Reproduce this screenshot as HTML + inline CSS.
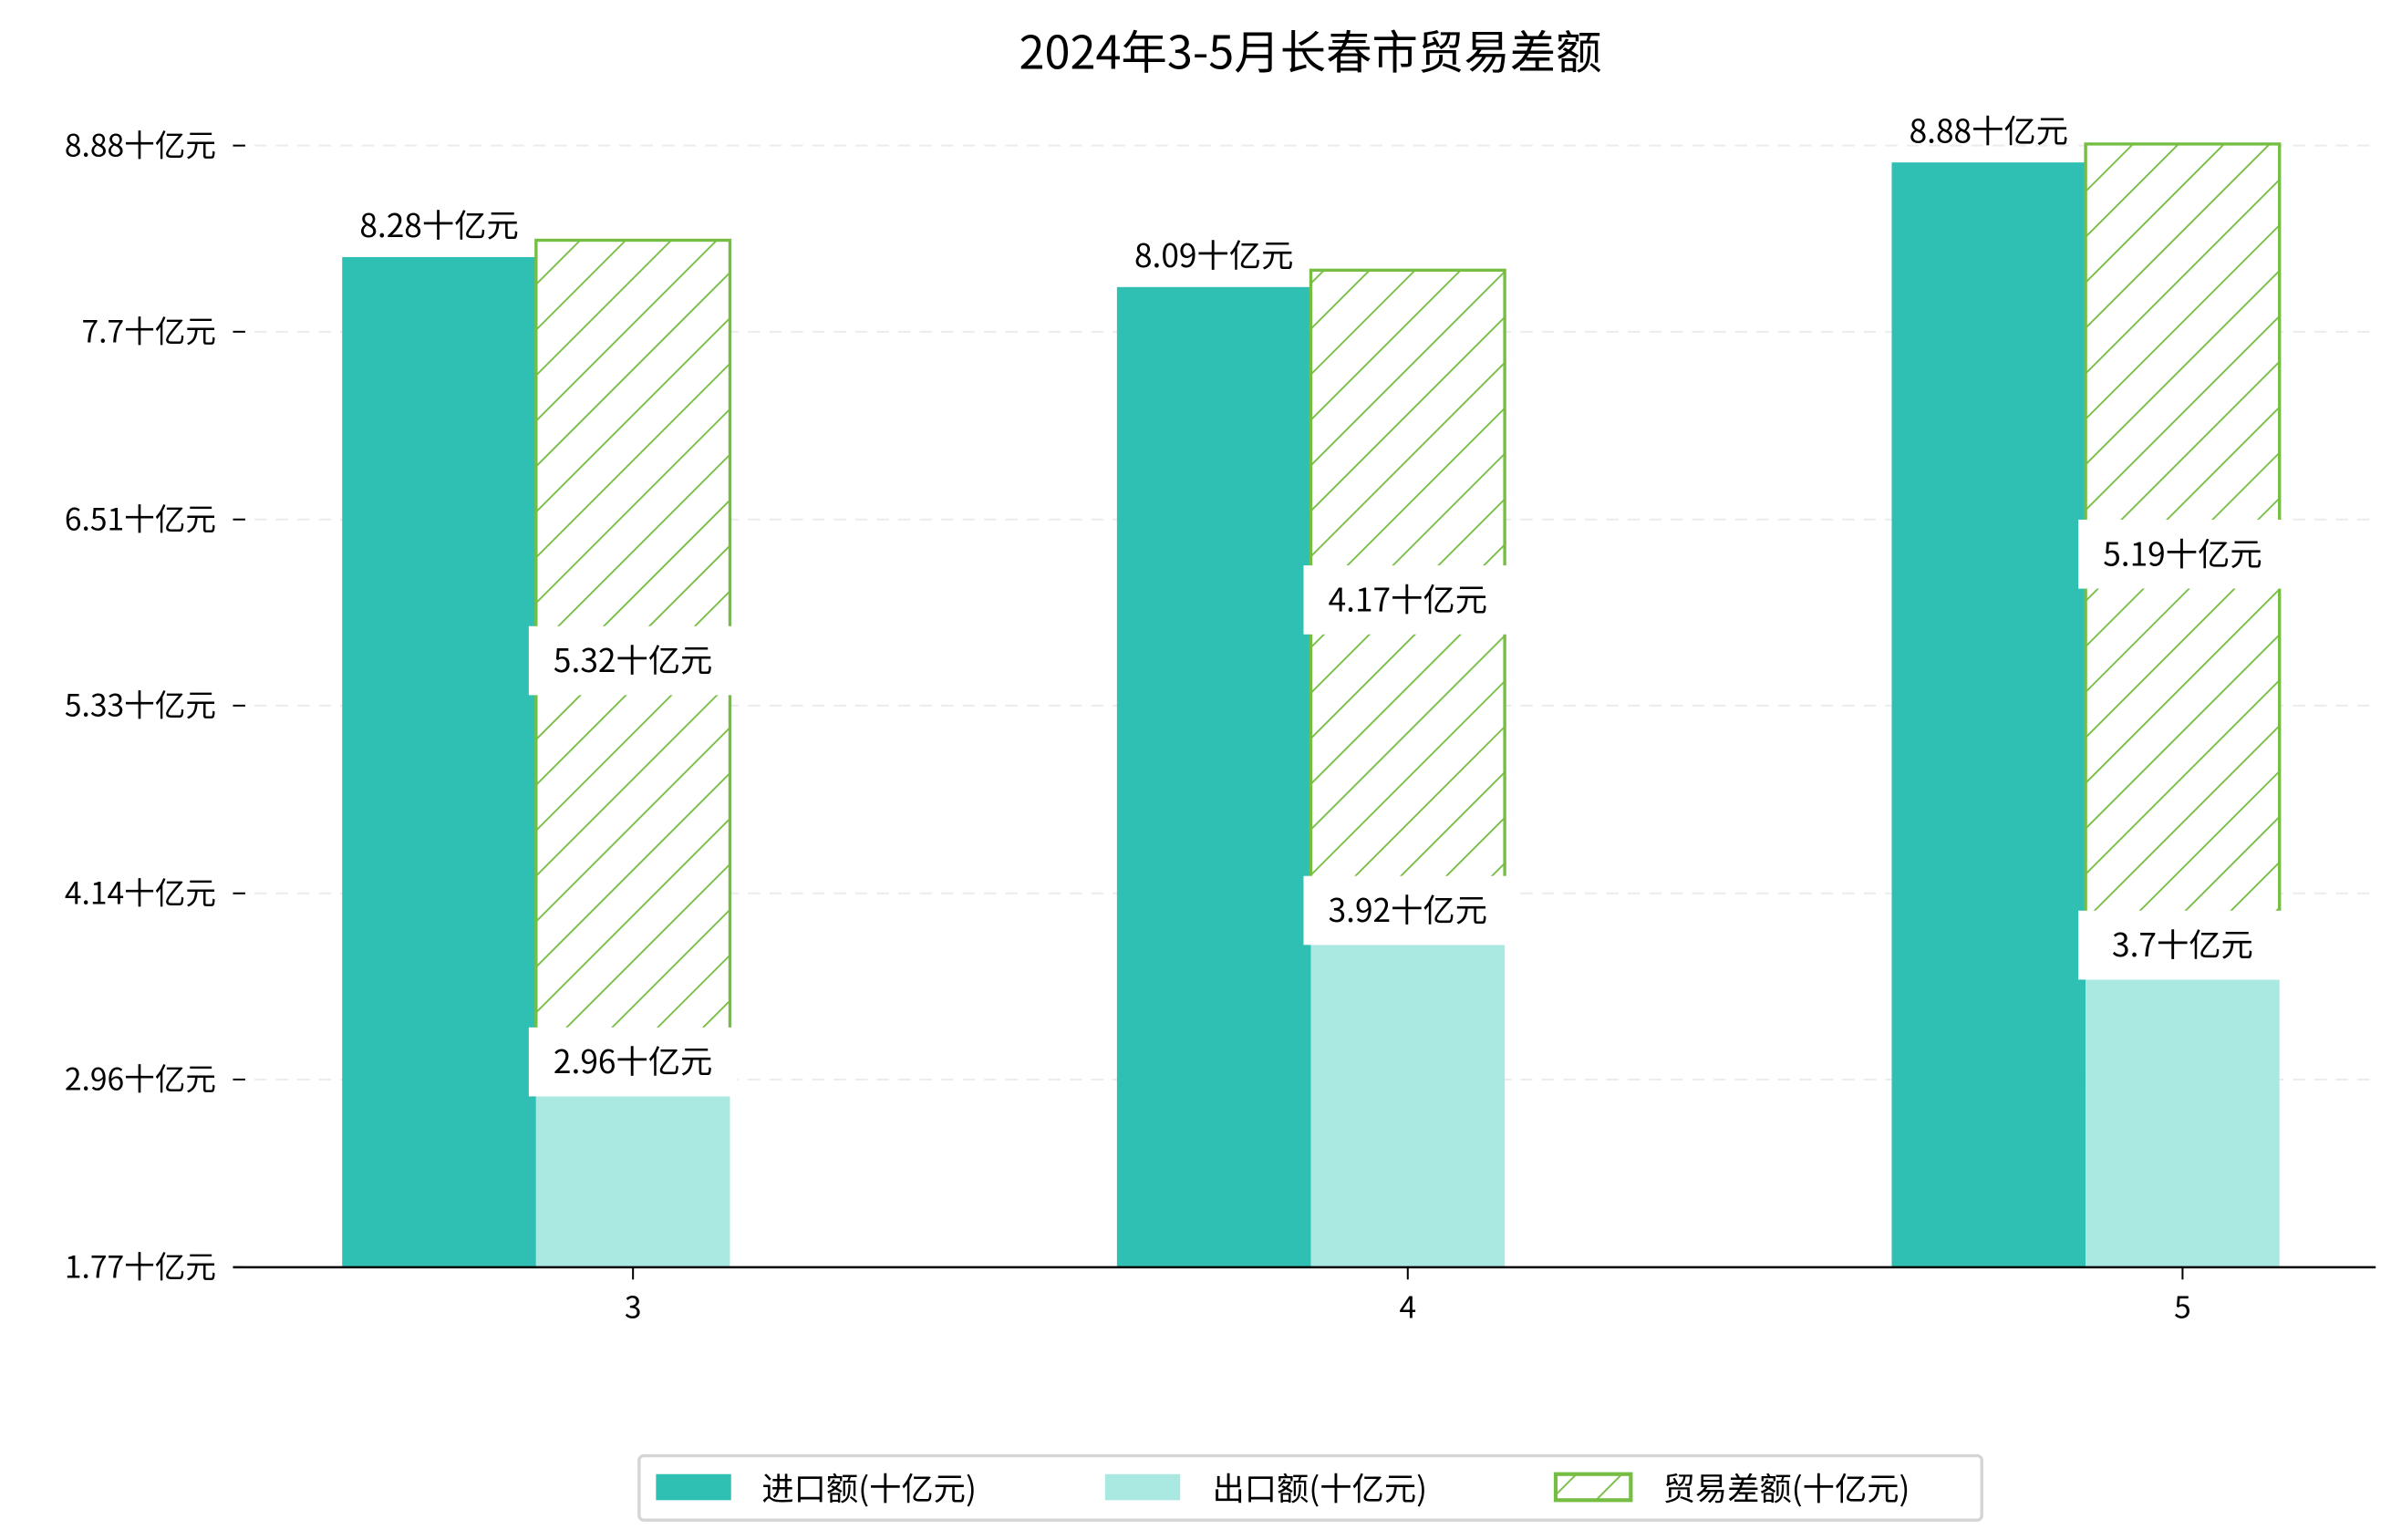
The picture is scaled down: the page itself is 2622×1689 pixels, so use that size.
<!DOCTYPE html>
<html><head><meta charset="utf-8">
<style>
html,body{margin:0;padding:0;background:#fff;}
svg{display:block;}
text{font-family:"WenQuanYi Zen Hei","Noto Sans CJK SC","Liberation Sans",sans-serif;fill:#000;}
</style></head>
<body>
<svg id="chart" width="2622" height="1689" viewBox="0 0 1560 1005" preserveAspectRatio="none" xmlns="http://www.w3.org/2000/svg">
<defs>
<pattern id="hatch" patternUnits="userSpaceOnUse" width="21" height="21" patternTransform="rotate(45)">
<rect width="21" height="21" fill="#fff"/>
<line x1="0" y1="0" x2="0" y2="21" stroke="#76bd43" stroke-width="2.2"/>
</pattern>
</defs>
<rect width="1560" height="1005" fill="#fff"/>
<text x="855" y="45" font-size="30" text-anchor="middle">2024年3-5月长春市贸易差额</text>
<g id="grid"></g>
<g id="bars"></g>
<g id="labels"></g>
<line x1="152" y1="827" x2="1550" y2="827" stroke="#000" stroke-width="1.5"/>
<g>
<rect x="417" y="950" width="876" height="42" rx="3" fill="#fff" stroke="#d5d5d5" stroke-width="2"/>
<g>
<rect x="428" y="962" width="49" height="17" fill="#30c0b3"/>
<text x="497" y="979" font-size="21">进口额(十亿元)</text></g>
<g>
<rect x="721" y="962" width="49" height="17" fill="#aae8e2"/>
<text x="791" y="979" font-size="21">出口额(十亿元)</text></g>
<g>
<rect x="1015" y="962" width="49" height="17" fill="url(#hatch)" stroke="#76bd43" stroke-width="2.5"/>
<text x="1085" y="979" font-size="21">贸易差额(十亿元)</text></g>
</g>
</svg>
<script>
const months = ["3","4","5"];
const importVals = [8.28, 8.09, 8.88];
const exportVals = [2.96, 3.92, 3.7];
const balanceVals = [5.32, 4.17, 5.19];
const tickVals = [1.77, 2.96, 4.14, 5.33, 6.51, 7.7, 8.88];
const tickLabels = ["1.77十亿元","2.96十亿元","4.14十亿元","5.33十亿元","6.51十亿元","7.7十亿元","8.88十亿元"];

const NS = "http://www.w3.org/2000/svg";
const yMin = 1.77, yMax = 8.88, yBottom = 827, yTop = 95;
function y(v){ return yBottom - (v - yMin) / (yMax - yMin) * (yBottom - yTop); }
function xc(i){ return 413 + i * 505.5; }
const BW = 126.5, OFF = 11;
function mk(tag, attrs, parent){ const e = document.createElementNS(NS, tag); for (const k in attrs) e.setAttribute(k, attrs[k]); parent.appendChild(e); return e; }
const grid = document.getElementById('grid'), bars = document.getElementById('bars'), labels = document.getElementById('labels');

tickVals.forEach((v, i) => {
  const yy = y(v);
  if (i > 0) {
    const g = mk('line', {x1:152, x2:1550, y1:yy, y2:yy, stroke:'#ececec', 'stroke-width':1.2, 'stroke-dasharray':'8,6'}, grid);
    
    
  }
  const t = mk('line', {x1:152, x2:160, y1:yy, y2:yy, stroke:'#000', 'stroke-width':1.2}, grid);
  
  
  const tx = mk('text', {x:141, y:yy + 7, 'font-size':20, 'text-anchor':'end'}, grid);
  tx.textContent = tickLabels[i];
  
  
});

function boxLabel(cx, cy, txt, name){
  const r = mk('rect', {x:cx - 68, y:cy - 22, width:136, height:45, fill:'#fff'}, labels);
  
  
  const t = mk('text', {x:cx, y:cy + 8, 'font-size':21, 'text-anchor':'middle'}, labels);
  t.textContent = txt;
  
  
}

months.forEach((m, i) => {
  const c = xc(i);
  const left = c - BW / 2;
  const imp = mk('rect', {x:left - BW, y:y(importVals[i]) + OFF, width:BW, height:yBottom - y(importVals[i]) - OFF, fill:'#30c0b3'}, bars);
  
  
  const bTop = y(exportVals[i] + balanceVals[i]), bBot = y(exportVals[i]);
  const bal = mk('rect', {x:left, y:bTop, width:BW, height:bBot - bTop, fill:'url(#hatch)', stroke:'#76bd43', 'stroke-width':2}, bars);
  
  
  const ex = mk('rect', {x:left, y:y(exportVals[i]) + OFF, width:BW, height:yBottom - y(exportVals[i]) - OFF, fill:'#aae8e2'}, bars);
  
  

  const il = mk('text', {x:left - BW / 2, y:y(importVals[i]) + OFF - 13, 'font-size':21, 'text-anchor':'middle'}, labels);
  il.textContent = importVals[i] + '十亿元';
  
  
  boxLabel(c, (bTop + bBot) / 2, balanceVals[i] + '十亿元', 'balance-value-label');
  boxLabel(c, y(exportVals[i]) + OFF - 23, exportVals[i] + '十亿元', 'export-value-label');

  const xt = mk('line', {x1:c, x2:c, y1:827, y2:835, stroke:'#000', 'stroke-width':1.2}, labels);
  
  
  const xl = mk('text', {x:c, y:860, 'font-size':20, 'text-anchor':'middle'}, labels);
  xl.textContent = m;
  
  
});
</script>
</body></html>
